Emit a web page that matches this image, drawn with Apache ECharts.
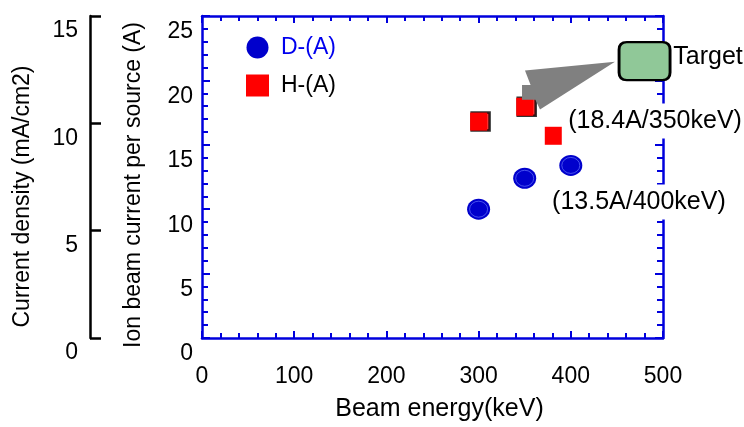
<!DOCTYPE html>
<html><head><meta charset="utf-8">
<script src="https://cdn.jsdelivr.net/npm/echarts@6/dist/echarts.min.js"></script>
<style>html,body{margin:0;padding:0;background:#fff}#c{width:744px;height:427px}</style>
</head><body><div id="c"></div>
<script>
// ---- data ----
const X_MIN = 0, X_MAX = 500, X_STEP = 100;
const Y_MIN = 0, Y_MAX = 25, Y_STEP = 5;
const J_MIN = 0, J_MAX = 15, J_STEP = 5;
const D_ENERGY = [300, 350, 400];
const D_CURRENT = [10.0, 12.4, 13.4];
const H_ENERGY = [300, 350, 381];
const H_CURRENT = [16.8, 17.95, 15.7];
const H_OUTLINED = [0, 1];
const TARGET_ENERGY = [480];
const TARGET_CURRENT = [21.5];
const ARROW_X = [350.3, 447.9, 366.6, 361.6, 347.1, 347.1, 356.4];
const ARROW_Y = [20.77, 21.45, 17.75, 18.5, 18.5, 19.64, 19.64];
const NOTE_TEXT = ['Target', '(18.4A/350keV)', '(13.5A/400keV)'];
const NOTE_X = [509, 395, 377.5];
const NOTE_Y = [21.8, 16.85, 10.55];
const TITLE_J = 'Current density (mA/cm2)';
const TITLE_I = 'Ion beam current per source (A)';

const FONT = '"Liberation Sans", Arial, sans-serif';
const BLUE = '#0000dd';
const FS = 23;
const FS_BIG = 25;

const chart = echarts.init(document.getElementById('c'), null, {renderer: 'canvas'});
const zip = (a, b) => a.map((v, i) => [v, b[i]]);

const blueX = (pos, labels) => ({
  type: 'value', position: pos, min: X_MIN, max: X_MAX, interval: X_STEP,
  axisLine: {show: true, onZero: false, lineStyle: {color: BLUE, width: 2.5}},
  axisTick: {show: true, inside: true, length: 7, lineStyle: {color: BLUE, width: 2}},
  minorTick: {show: true, splitNumber: 5, length: 5, lineStyle: {color: BLUE, width: 2}},
  splitLine: {show: false}, minorSplitLine: {show: false},
  axisLabel: {show: labels, color: '#000', fontSize: FS, fontFamily: FONT, margin: 27}
});
const blueY = (pos, labels) => ({
  type: 'value', position: pos, min: Y_MIN, max: Y_MAX, interval: Y_STEP,
  axisLine: {show: true, onZero: false, lineStyle: {color: BLUE, width: 2.5}},
  axisTick: {show: true, inside: true, length: 8, lineStyle: {color: BLUE, width: 2}},
  minorTick: {show: true, splitNumber: 5, length: 6, lineStyle: {color: BLUE, width: 2}},
  splitLine: {show: false}, minorSplitLine: {show: false},
  axisLabel: {show: labels, color: '#000', fontSize: FS, fontFamily: FONT, margin: 9,
    verticalAlign: 'top', lineHeight: 32}
});

const xb = blueX('bottom', true);
xb.name = 'Beam energy(keV)'; xb.nameLocation = 'middle'; xb.nameGap = 59;
xb.nameTextStyle = {fontSize: FS_BIG, color: '#000', fontFamily: FONT, padding: [0, 0, 0, 14]};
const xt = blueX('top', false);
const yl = blueY('left', true);
const yr = blueY('right', false);
const yj = {
  type: 'value', position: 'left', offset: 112, min: J_MIN, max: J_MAX, interval: J_STEP,
  axisLine: {show: true, onZero: false, lineStyle: {color: '#000', width: 2.5}},
  axisTick: {show: true, inside: true, length: 11, lineStyle: {color: '#000', width: 2.5}},
  splitLine: {show: false},
  axisLabel: {color: '#000', fontSize: FS, fontFamily: FONT, margin: 12,
    verticalAlign: 'top', lineHeight: 30}
};

const titleText = (text, x, y) => ({
  type: 'text', x: x, y: y, rotation: Math.PI / 2, silent: true,
  style: {text: text, font: FS + 'px ' + FONT, fill: '#000', align: 'center', verticalAlign: 'middle'}
});

const option = {
  animation: false,
  backgroundColor: '#fff',
  textStyle: {fontFamily: FONT},
  grid: {left: 202, right: 81, top: 16, bottom: 80, containLabel: false},
  xAxis: [xb, xt],
  yAxis: [yl, yr, yj],
  graphic: [titleText(TITLE_J, 22.5, 196.5), titleText(TITLE_I, 133.5, 185)],
  legend: {
    orient: 'vertical', left: 241, top: 31, itemWidth: 23, itemHeight: 22, itemGap: 15,
    textStyle: {fontSize: FS, fontFamily: FONT, color: '#000', padding: [0, 0, 0, 7]},
    data: [{name: 'D-(A)', textStyle: {color: '#0000ee'}}, {name: 'H-(A)', textStyle: {color: '#000'}}]
  },
  series: [
    {name: 'D-(A)', type: 'scatter', symbol: 'circle', symbolSize: [23, 21], z: 3,
     itemStyle: {color: '#0000cc', opacity: 1}, data: zip(D_ENERGY, D_CURRENT)},
    {name: 'D-ring', type: 'scatter', symbol: 'circle', symbolSize: [18, 16], z: 4, silent: true,
     itemStyle: {color: 'rgba(0,0,0,0)', borderColor: '#6f7dff', borderWidth: 0.8},
     data: zip(D_ENERGY, D_CURRENT)},
    {name: 'H-outline', type: 'scatter', symbol: 'rect', symbolSize: 18, symbolOffset: [2, 0], z: 3, silent: true,
     itemStyle: {color: '#ff0000', borderColor: '#000', borderWidth: 2.5},
     data: H_OUTLINED.map(i => [H_ENERGY[i], H_CURRENT[i]])},
    {name: 'H-(A)', type: 'scatter', symbol: 'rect', symbolSize: [17, 18], z: 4,
     itemStyle: {color: '#ff0000', opacity: 1}, data: zip(H_ENERGY, H_CURRENT)},
    {name: 'arrow', type: 'custom', z: 6, silent: true, encode: {x: 0, y: 1},
     data: zip(ARROW_X, ARROW_Y),
     renderItem: (params, api) => {
       if (params.dataIndex !== 0) return null;
       const pts = ARROW_X.map((x, i) => api.coord([x, ARROW_Y[i]]));
       return {type: 'polygon', shape: {points: pts}, style: {fill: '#808080', stroke: null}};
     }},
    {name: 'target', type: 'scatter', z: 7, silent: true,
     symbol: 'path://M8,0 H45 Q53,0 53,8 V32 Q53,40 45,40 H8 Q0,40 0,32 V8 Q0,0 8,0 Z',
     symbolSize: [51, 38], symbolKeepAspect: false,
     itemStyle: {color: '#90c898', borderColor: '#000', borderWidth: 2.5, opacity: 1},
     data: zip(TARGET_ENERGY, TARGET_CURRENT)},
    {name: 'notes', type: 'custom', z: 5, silent: true, encode: {x: 0, y: 1},
     data: NOTE_X.map((x, i) => [x, NOTE_Y[i], i]),
     renderItem: (params, api) => {
       const p = api.coord([api.value(0), api.value(1)]);
       const i = api.value(2);
       return {type: 'text', x: p[0], y: p[1],
         style: {text: NOTE_TEXT[i], fill: '#000', font: FS_BIG + 'px ' + FONT,
           align: 'left', verticalAlign: 'middle',
           backgroundColor: i === 0 ? null : '#fff', padding: [6, 2, 4, 2]}};
     }}
  ]
};
chart.setOption(option);
</script>
</body></html>
